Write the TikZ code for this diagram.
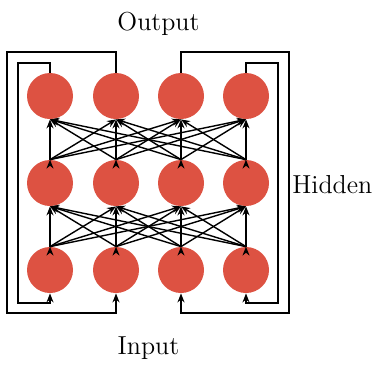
\documentclass[tikz,border=0pt]{standalone}
\usepackage{tikz}
\usetikzlibrary{arrows.meta}
\tikzstyle{neuron}=[circle,fill={rgb,255:red,221;green,82;blue,66},minimum size=23pt,inner sep=0pt]
\tikzstyle{label}=[font=\fontsize{13}{15}\selectfont,inner sep=0pt]

\begin{document}
\begin{tikzpicture}[x=0.5pt, y=-0.5pt, >={Stealth[length=4.5pt,width=3.5pt]}]
		\useasboundingbox (0, 0) rectangle (380, 365);
		\node[neuron] at (50, 96) (o1) {};
		\node[neuron] at (116, 96) (o2) {};
		\node[neuron] at (181, 96) (o3) {};
		\node[neuron] at (246, 96) (o4) {};
		\node[neuron] at (50, 183) (h1) {};
		\node[neuron] at (116, 183) (h2) {};
		\node[neuron] at (181, 183) (h3) {};
		\node[neuron] at (246, 183) (h4) {};
		\node[neuron] at (50, 270) (i1) {};
		\node[neuron] at (116, 270) (i2) {};
		\node[neuron] at (181, 270) (i3) {};
		\node[neuron] at (246, 270) (i4) {};
		\node[label, anchor = base] at (158.5, 30) (out) {Output};
		\node[label, anchor = base] at (148.5, 354) (inp) {Input};
		\node[label, anchor = base west] at (292, 193) (hid) {Hidden};
		% hidden -> output
		\draw[->, line width=0.7pt] (h1.north) edge (o1.south) edge (o2.south) edge (o3.south) edge (o4.south);
		\draw[->, line width=0.7pt] (h2.north) edge (o1.south) edge (o2.south) edge (o3.south) edge (o4.south);
		\draw[->, line width=0.7pt] (h3.north) edge (o1.south) edge (o2.south) edge (o3.south) edge (o4.south);
		\draw[->, line width=0.7pt] (h4.north) edge (o1.south) edge (o2.south) edge (o3.south) edge (o4.south);
		% input -> hidden
		\draw[->, line width=0.7pt] (i1.north) edge (h1.south) edge (h2.south) edge (h3.south) edge (h4.south);
		\draw[->, line width=0.7pt] (i2.north) edge (h1.south) edge (h2.south) edge (h3.south) edge (h4.south);
		\draw[->, line width=0.7pt] (i3.north) edge (h1.south) edge (h2.south) edge (h3.south) edge (h4.south);
		\draw[->, line width=0.7pt] (i4.north) edge (h1.south) edge (h2.south) edge (h3.south) edge (h4.south);
		% feedback loops
		\draw[->, thick] (o1.north) -- (o1.north |- 0, 63) -- (18, 63) -- (18, 303) -- (i1.south |- 0, 303) -- (i1.south);
		\draw[->, thick] (o2.north) -- (o2.north |- 0, 52) -- (7, 52) -- (7, 313) -- (i2.south |- 0, 313) -- (i2.south);
		\draw[->, thick] (o3.north) -- (o3.north |- 0, 52) -- (289, 52) -- (289, 313) -- (i3.south |- 0, 313) -- (i3.south);
		\draw[->, thick] (o4.north) -- (o4.north |- 0, 63) -- (278, 63) -- (278, 303) -- (i4.south |- 0, 303) -- (i4.south);
		\end{tikzpicture}
\end{document}
